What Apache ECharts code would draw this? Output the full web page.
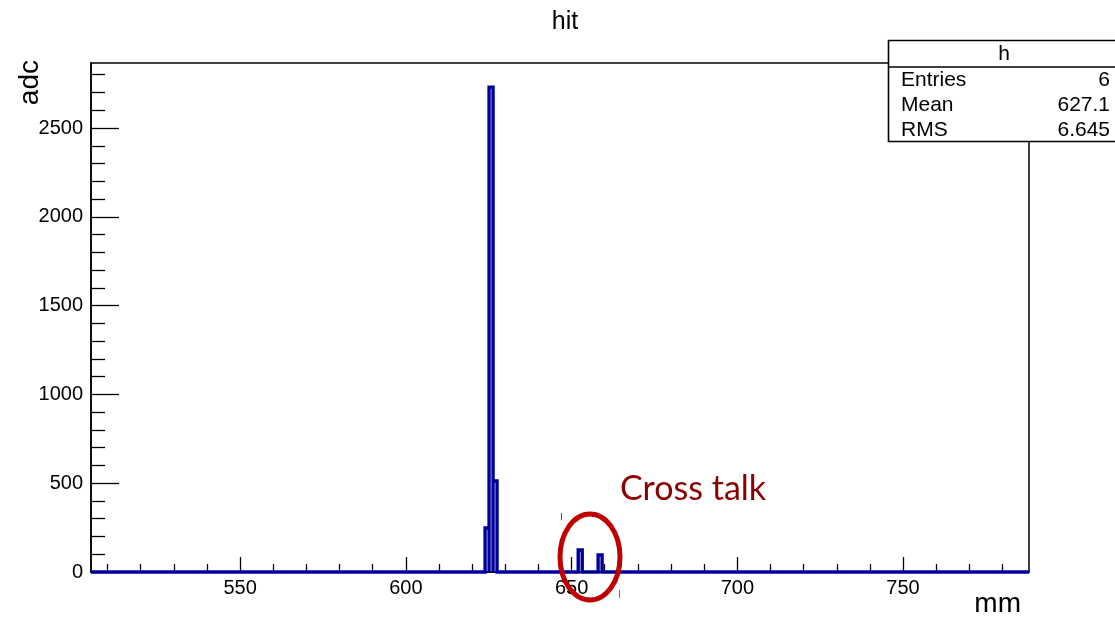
<!DOCTYPE html>
<html><head><meta charset="utf-8">
<script src="https://cdn.jsdelivr.net/npm/echarts@6/dist/echarts.min.js"></script>
<style>html,body{margin:0;padding:0;background:#fff}#c{width:1115px;height:619px}</style>
</head><body><div id="c"></div>
<script>
// ---- data ----
const binLow = [623.9, 625.1, 626.3, 652.0, 658.0];
const binWidth = 1.2;
const counts = [248, 2730, 512, 124, 96];
const xRange = [505, 788];
const yRange = [0, 2866];
const xMajor = [550, 600, 650, 700, 750];
const xMinor = [510, 520, 530, 540, 560, 570, 580, 590, 610, 620, 630, 640, 660, 670, 680, 690, 710, 720, 730, 740, 760, 770, 780];
const yMajor = [0, 500, 1000, 1500, 2000, 2500];
const yMinor = [100, 200, 300, 400, 600, 700, 800, 900, 1100, 1200, 1300, 1400, 1600, 1700, 1800, 1900, 2100, 2200, 2300, 2400, 2600, 2700, 2800];
const statNames = ['Entries', 'Mean', 'RMS'];
const statValues = ['6', '627.1', '6.645'];

// histogram outline points
const pts = [[xRange[0], 0]];
binLow.forEach((lo, i) => {
  const hi = +(lo + binWidth).toFixed(3);
  pts.push([lo, 0], [lo, counts[i]], [hi, counts[i]], [hi, 0]);
});
pts.push([xRange[1], 0]);

const FONT = 'Liberation Sans';
const chart = echarts.init(document.getElementById('c'), null, {renderer: 'canvas'});

const statGraphics = [];
statGraphics.push({type: 'rect', z: 100, shape: {x: 888.5, y: 40.5, width: 240, height: 101},
  style: {fill: '#fff', stroke: '#000', lineWidth: 1.6}});
statGraphics.push({type: 'line', z: 101, shape: {x1: 888.5, y1: 67, x2: 1115, y2: 67},
  style: {stroke: '#000', lineWidth: 1.6}});
statGraphics.push({type: 'text', z: 102, x: 1004, y: 54,
  style: {text: 'h', font: '21px "Liberation Sans"', fill: '#000', align: 'center', verticalAlign: 'middle'}});
statNames.forEach((n, i) => {
  statGraphics.push({type: 'text', z: 102, x: 901, y: 80 + i * 25,
    style: {text: n, font: '21px "Liberation Sans"', fill: '#000', align: 'left', verticalAlign: 'middle'}});
  statGraphics.push({type: 'text', z: 102, x: 1110, y: 80 + i * 25,
    style: {text: statValues[i], font: '21px "Liberation Sans"', fill: '#000', align: 'right', verticalAlign: 'middle'}});
});

const plain = v => String(v);

const option = {
  animation: false,
  backgroundColor: '#fff',
  title: {text: 'hit', left: 560, top: 5, textAlign: 'center',
    textStyle: {fontFamily: FONT, fontSize: 25, fontWeight: 'normal', color: '#000'}},
  grid: {left: 91, top: 63, width: 938, height: 509, show: true, borderColor: '#000', borderWidth: 1.5, backgroundColor: 'transparent'},
  xAxis: [
    {type: 'value', min: xRange[0], max: xRange[1], position: 'bottom',
      axisLine: {show: true, onZero: false, lineStyle: {color: '#000', width: 1.5}},
      axisTick: {show: true, inside: true, length: 15, customValues: xMajor, lineStyle: {color: '#000', width: 1.3}},
      axisLabel: {show: true, customValues: xMajor, formatter: plain, margin: 6, color: '#000', fontFamily: FONT, fontSize: 20},
      splitLine: {show: false}},
    {type: 'value', min: xRange[0], max: xRange[1], position: 'bottom',
      axisLine: {show: false},
      axisTick: {show: true, inside: true, length: 8, customValues: xMinor, lineStyle: {color: '#000', width: 1.3}},
      axisLabel: {show: false},
      splitLine: {show: false}}
  ],
  yAxis: [
    {type: 'value', min: yRange[0], max: yRange[1], position: 'left',
      axisLine: {show: true, onZero: false, lineStyle: {color: '#000', width: 1.5}},
      axisTick: {show: true, inside: true, length: 28, customValues: yMajor, lineStyle: {color: '#000', width: 1.3}},
      axisLabel: {show: true, customValues: yMajor, formatter: plain, margin: 8, color: '#000', fontFamily: FONT, fontSize: 20},
      splitLine: {show: false}},
    {type: 'value', min: yRange[0], max: yRange[1], position: 'left',
      axisLine: {show: false},
      axisTick: {show: true, inside: true, length: 14, customValues: yMinor, lineStyle: {color: '#000', width: 1.3}},
      axisLabel: {show: false},
      splitLine: {show: false}}
  ],
  series: [{
    type: 'line', xAxisIndex: 0, yAxisIndex: 0, data: pts, showSymbol: false, symbol: 'none',
    clip: false, z: 10,
    lineStyle: {color: '#000099', width: 3.4, join: 'miter', cap: 'butt'}
  }],
  graphic: [
    {type: 'text', z: 50, x: 30, y: 60, rotation: Math.PI / 2,
      style: {text: 'adc', font: '28px "Liberation Sans"', fill: '#000', align: 'right', verticalAlign: 'middle'}},
    {type: 'text', z: 50, x: 1021, y: 604,
      style: {text: 'mm', font: '28px "Liberation Sans"', fill: '#000', align: 'right', verticalAlign: 'middle'}},
    {type: 'text', z: 50, x: 620, y: 489,
      style: {text: 'Cross talk', font: '34px Lato', fill: '#8b0000', align: 'left', verticalAlign: 'middle'}},
    {type: 'ellipse', z: 60, shape: {cx: 590, cy: 557, rx: 30, ry: 43},
      style: {fill: 'none', stroke: '#c00000', lineWidth: 5}},
    {type: 'line', z: 50, shape: {x1: 561.5, y1: 513, x2: 561.5, y2: 520}, style: {stroke: '#b03030', lineWidth: 1}},
    {type: 'line', z: 50, shape: {x1: 619.5, y1: 590, x2: 619.5, y2: 598}, style: {stroke: '#d04040', lineWidth: 1}}
  ].concat(statGraphics)
};
chart.setOption(option);
</script>
</body></html>
